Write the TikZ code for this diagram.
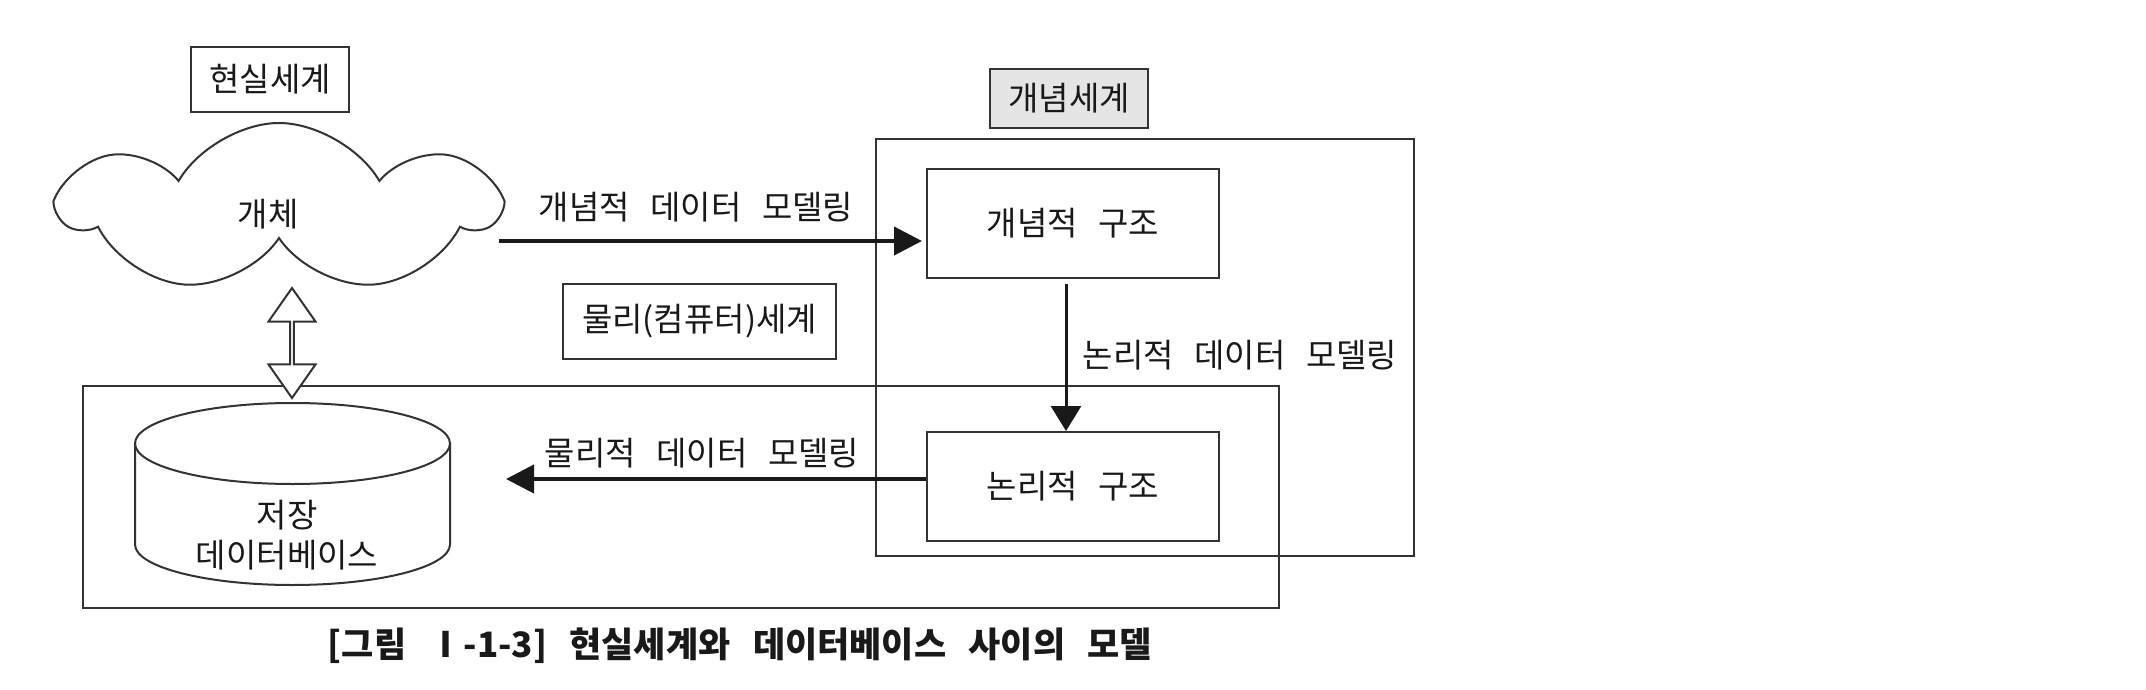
\documentclass[tikz,border=0pt]{standalone}
\usepackage{fontspec}
\setmainfont{Noto Sans CJK KR}[WordSpace=2.8]
\usetikzlibrary{arrows.meta,shapes.symbols,shapes.arrows}

\begin{document}
\begin{tikzpicture}[x=0.5pt,y=-0.5pt,
  every node/.style={font=\fontsize{16.5}{20}\selectfont,text=black!90},
  box/.style={draw=black!80,line width=1pt,inner sep=0pt},
  flow/.style={draw=black!90,line width=2pt,-{Triangle[length=14pt,width=14pt]}}]
\useasboundingbox[fill=white] (0,0) rectangle (2146,690);
\node[box,minimum width=79pt,minimum height=32.5pt] (real) at (270,79.5) {현실세계};
\node[box,fill=black!10,minimum width=79pt,minimum height=29.5pt] (concept) at (1069,98.5) {개념세계};
\node[box,minimum width=136.5pt,minimum height=37.5pt] (physical) at (699.5,321.5) {물리(컴퓨터)세계};
\node[box,minimum width=269pt,minimum height=208.5pt] (cframe) at (1145,347.5) {};
\node[box,minimum width=598pt,minimum height=111pt] (pframe) at (681,497) {};
\node[box,minimum width=146pt,minimum height=54.5pt] (cs) at (1073,223.5) {개념적 구조};
\node[box,minimum width=146pt,minimum height=54.5pt] (ls) at (1073,486.5) {논리적 구조};
\node[box,cloud,cloud puffs=7,cloud puff arc=120,cloud ignores aspect,minimum width=216pt,minimum height=85pt] (obj) at (279,208) {};
\node (objtext) at (268,214) {개체};
\draw[box] (292.5,443.5) ellipse[x radius=78.75pt,y radius=20.25pt];
\draw[box] (135,443.5) -- (135,544.5) arc[start angle=180,end angle=360,x radius=78.75pt,y radius=20.25pt] -- (450,443.5);
\node[align=center] (db) at (287,535) {저장\\데이터베이스};
\node[box,double arrow,fill=white,rotate=90,minimum height=55pt,minimum width=23.5pt,double arrow head extend=5.5pt,double arrow tip angle=70] (link) at (292,343) {};
\coordinate (a1) at (499,241);
\coordinate (a3) at (506,479);
\draw[flow,shorten >=2pt] (a1) -- (a1 -| cs.west);
\draw[flow,line width=1.5pt,-{Triangle[length=12.5pt,width=15pt]}] ([xshift=-3.5pt,yshift=-2.5pt]cs.south) -- ([xshift=-3.5pt]ls.north);
\draw[flow] (ls.west |- a3) -- (a3);
\node (l1) at (696,207) {개념적 데이터 모델링};
\node (l2) at (1240,355) {논리적 데이터 모델링};
\node (l3) at (702,453) {물리적 데이터 모델링};
\node[font=\bfseries\fontsize{17.5}{20}\selectfont] (caption) at (740,646) {[그림 Ⅰ-1-3] 현실세계와 데이터베이스 사이의 모델};
\end{tikzpicture}
\end{document}
